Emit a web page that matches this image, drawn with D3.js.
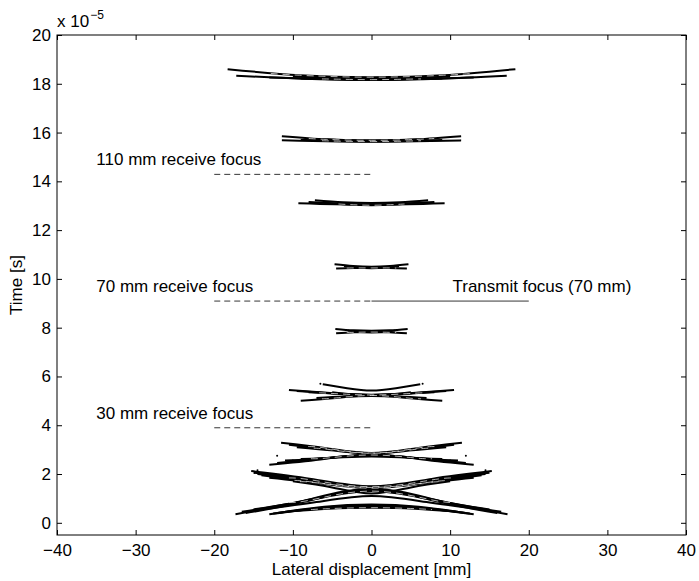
<!DOCTYPE html>
<html>
<head>
<meta charset="utf-8">
<script src="https://cdn.jsdelivr.net/npm/d3@7"></script>
<style>
  html, body { margin: 0; padding: 0; background: #fff; }
  svg { display: block; }
  text { font-family: "Liberation Sans", Arial, Helvetica, sans-serif; fill: #000; }
</style>
</head>
<body>
<svg id="chart" width="699" height="581"></svg>
<script>
// ---------------- data ----------------
const xTicks = [-40, -30, -20, -10, 0, 10, 20, 30, 40];
const yTicks = [0, 2, 4, 6, 8, 10, 12, 14, 16, 18, 20];
const xDomain = [-40, 40];
const yDomain = [-0.5, 20];          // in units of 1e-5 s
const yExponent = -5;

// receive focus depths (mm) and their times (1e-5 s)
const receiveDepths = [30, 70, 110];
const receiveTimes = [3.896, 9.091, 14.286];
const receiveLabels = ["30 mm receive focus", "70 mm receive focus", "110 mm receive focus"];
const receiveLineX = [-20, 0];
const labelX = -35;
const labelOffsetT = 0.62;

// transmit focus
const transmitTime = 9.091;
const transmitLineX = [0, 20];
const transmitLabel = "Transmit focus (70 mm)";
const transmitLabelX = 10.3;

// PSF contour branches: half-width (mm), time at ends, time at half-width, time at centre
const arcHalfWidth = [18.3, 17.2, 10.0, 9.0, 13.0, 6.0,
                      11.4, 11.4, 7.0, 9.0,
                      7.2, 9.3, 6.0, 8.0,
                      4.7, 4.5, 3.5,
                      4.6, 4.5, 3.0,
                      10.5, 9.0, 6.2, 8.0, 9.5, 7.0, 5.0,
                      11.5, 13.0, 9.5, 11.0, 9.0, 12.0, 10.5,
                      15.3, 14.5, 13.0, 17.3, 16.5, 15.0, 12.0, 13.0, 11.0, 14.0, 10.0,
                      15.0, 16.0, 12.5, 14.0];
const arcEndT =      [18.60, 18.33, 18.30, 18.22, 18.26, 18.20,
                      15.85, 15.68, 15.74, 15.70,
                      13.22, 13.10, 13.12, 13.15,
                      10.60, 10.43, 10.52,
                      7.95, 7.77, 7.88,
                      5.45, 5.00, 5.68, 5.35, 5.40, 5.12, 5.35,
                      3.28, 2.38, 3.10, 2.55, 2.62, 2.45, 3.20,
                      2.12, 2.00, 1.85, 0.35, 0.45, 0.55, 0.40, 0.35, 0.45, 0.55, 1.70,
                      2.05, 0.40, 0.38, 1.95];
const arcHalfT =     [18.35, 18.21, 18.24, 18.19, 18.20, 18.18,
                      15.72, 15.64, 15.69, 15.65,
                      13.14, 13.06, 13.05, 13.08,
                      10.53, 10.45, 10.46,
                      7.89, 7.81, 7.82,
                      5.32, 5.12, 5.52, 5.29, 5.30, 5.18, 5.27,
                      3.06, 2.60, 2.96, 2.66, 2.67, 2.65, 3.00,
                      1.80, 1.71, 1.62, 0.90, 0.93, 0.95, 0.66, 0.60, 0.58, 0.85, 1.45,
                      1.75, 0.90, 0.62, 1.65];
const arcMidT =      [18.27, 18.17, 18.22, 18.17, 18.18, 18.17,
                      15.68, 15.62, 15.66, 15.63,
                      13.11, 13.05, 13.02, 13.06,
                      10.50, 10.45, 10.44,
                      7.87, 7.82, 7.80,
                      5.22, 5.22, 5.42, 5.25, 5.24, 5.20, 5.24,
                      2.86, 2.80, 2.84, 2.78, 2.72, 2.78, 2.85,
                      1.50, 1.45, 1.42, 1.40, 1.35, 1.30, 0.75, 0.68, 0.62, 1.10, 1.20,
                      1.48, 1.38, 0.72, 1.45];
// isolated contour specks (mm, 1e-5 s)
const speckX = [-6.5, 6.5, -10.0, 10.0, -12.0, 12.0, -14.5, 14.5];
const speckT = [5.70, 5.70, 2.55, 2.55, 2.75, 2.75, 2.15, 2.15];

// ---------------- layout ----------------
const margin = {left: 57, top: 35, right: 13, bottom: 46};
const W = 699, H = 581;
const FS = 17;
const svg = d3.select("#chart");

const x = d3.scaleLinear().domain(xDomain).range([margin.left, W - margin.right]);
const y = d3.scaleLinear().domain(yDomain).range([H - margin.bottom, margin.top]);

const plot = svg.append("g");

svg.append("clipPath").attr("id", "clip").append("rect")
  .attr("x", x(xDomain[0])).attr("y", y(yDomain[1]))
  .attr("width", x(xDomain[1]) - x(xDomain[0]))
  .attr("height", y(yDomain[0]) - y(yDomain[1]));

const marks = plot.append("g").attr("clip-path", "url(#clip)");

// PSF branches (dark band with a thin light core, like stacked contour lines)
const line = d3.line().x(d => x(d[0])).y(d => y(d[1])).curve(d3.curveNatural);
arcHalfWidth.forEach((w, i) => {
  const pts = [[-w, arcEndT[i]], [-w / 2, arcHalfT[i]], [0, arcMidT[i]], [w / 2, arcHalfT[i]], [w, arcEndT[i]]];
  marks.append("path").attr("d", line(pts))
    .attr("fill", "none").attr("stroke", "#000").attr("stroke-width", 2.0);
});
arcHalfWidth.forEach((w, i) => {
  if (i % 3 !== 0) return;
  const pts = [[-w * 0.7, arcHalfT[i] + (arcEndT[i] - arcHalfT[i]) * 0.3], [-w / 2, arcHalfT[i]], [0, arcMidT[i]],
               [w / 2, arcHalfT[i]], [w * 0.7, arcHalfT[i] + (arcEndT[i] - arcHalfT[i]) * 0.3]];
  marks.append("path").attr("d", line(pts))
    .attr("fill", "none").attr("stroke", "#fff").attr("stroke-width", 0.7)
    .attr("stroke-dasharray", "7,5");
});
speckX.forEach((sx, i) => {
  marks.append("circle").attr("cx", x(sx)).attr("cy", y(speckT[i])).attr("r", 1).attr("fill", "#000");
});

// receive focus dashed lines
receiveTimes.forEach((t, i) => {
  marks.append("line")
    .attr("x1", x(receiveLineX[0])).attr("x2", x(receiveLineX[1]))
    .attr("y1", y(t)).attr("y2", y(t))
    .attr("stroke", "#000").attr("stroke-width", 0.8)
    .attr("stroke-dasharray", "6,4");
  plot.append("text")
    .attr("x", x(labelX)).attr("y", y(t + labelOffsetT))
    .attr("dy", "0.35em").attr("font-size", FS)
    .text(receiveLabels[i]);
});

// transmit focus line
marks.append("line")
  .attr("x1", x(transmitLineX[0])).attr("x2", x(transmitLineX[1]))
  .attr("y1", y(transmitTime)).attr("y2", y(transmitTime))
  .attr("stroke", "#000").attr("stroke-width", 0.8);
plot.append("text")
  .attr("x", x(transmitLabelX)).attr("y", y(transmitTime + labelOffsetT))
  .attr("dy", "0.35em").attr("font-size", FS)
  .text(transmitLabel);

// ---------------- axes (MATLAB box style, ticks inside) ----------------
const tickLen = 5;
const axB = d3.axisBottom(x).tickValues(xTicks).tickSizeInner(-tickLen).tickSizeOuter(0)
  .tickPadding(9).tickFormat(d => d < 0 ? "\u2212" + Math.abs(d) : d);
const axT = d3.axisTop(x).tickValues(xTicks).tickSizeInner(-tickLen).tickSizeOuter(0).tickFormat("");
const axL = d3.axisLeft(y).tickValues(yTicks).tickSizeInner(-tickLen).tickSizeOuter(0).tickPadding(6);
const axR = d3.axisRight(y).tickValues(yTicks).tickSizeInner(-tickLen).tickSizeOuter(0).tickFormat("");

function styleAxis(g) {
  g.select(".domain").remove();
  g.selectAll("line").attr("stroke", "#000");
  g.selectAll("text").attr("font-size", FS).attr("font-family", "Liberation Sans, Arial, sans-serif").attr("fill", "#000");
}
svg.append("g").attr("transform", `translate(0,${y(yDomain[0])})`).call(axB).call(styleAxis);
svg.append("g").attr("transform", `translate(0,${y(yDomain[1])})`).call(axT).call(styleAxis);
svg.append("g").attr("transform", `translate(${x(xDomain[0])},0)`).call(axL).call(styleAxis);
svg.append("g").attr("transform", `translate(${x(xDomain[1])},0)`).call(axR).call(styleAxis);

svg.append("rect")
  .attr("x", x(xDomain[0])).attr("y", y(yDomain[1]))
  .attr("width", x(xDomain[1]) - x(xDomain[0]))
  .attr("height", y(yDomain[0]) - y(yDomain[1]))
  .attr("fill", "none").attr("stroke", "#000").attr("stroke-width", 1);

// exponent label
const expText = svg.append("text")
  .attr("x", x(xDomain[0])).attr("y", y(yDomain[1]) - 8)
  .attr("font-size", FS);
expText.append("tspan").text("x 10");
expText.append("tspan").attr("dy", -8).attr("dx", 1).attr("font-size", 12)
  .text("\u2212" + Math.abs(yExponent));

// axis titles
svg.append("text")
  .attr("x", (x(xDomain[0]) + x(xDomain[1])) / 2).attr("y", H - 6)
  .attr("text-anchor", "middle").attr("font-size", FS)
  .text("Lateral displacement [mm]");
svg.append("text")
  .attr("transform", `translate(22,${(y(yDomain[0]) + y(yDomain[1])) / 2}) rotate(-90)`)
  .attr("text-anchor", "middle").attr("font-size", FS)
  .text("Time [s]");
</script>
</body>
</html>
